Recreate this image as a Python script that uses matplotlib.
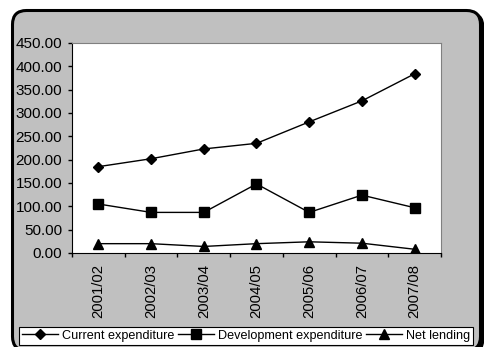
import matplotlib
matplotlib.use("Agg")
import matplotlib.pyplot as plt
from matplotlib.patches import FancyBboxPatch

plt.rcParams['font.family'] = ['Liberation Sans', 'DejaVu Sans']

years = ['2001/02', '2002/03', '2003/04', '2004/05', '2005/06', '2006/07', '2007/08']
current_exp = [185, 202, 223, 235, 281, 326, 384]
development_exp = [105, 87, 87, 148, 87, 124, 97]
net_lending = [20, 20, 14, 20, 24, 21, 8]
yticks = [0, 50, 100, 150, 200, 250, 300, 350, 400, 450]

W, H = 485, 347
fig = plt.figure(figsize=(W / 100, H / 100), dpi=100)
fig.patch.set_facecolor('white')

# background frame in pixel units
bg = fig.add_axes([0, 0, 1, 1], zorder=0)
bg.set_xlim(0, W)
bg.set_ylim(H, 0)
bg.axis('off')
shadow = FancyBboxPatch((15, 13), 468, 340, boxstyle='round,pad=0,rounding_size=14',
                        facecolor='black', edgecolor='black', linewidth=2)
bg.add_patch(shadow)
frame = FancyBboxPatch((12.5, 10.5), 468, 340, boxstyle='round,pad=0,rounding_size=14',
                       facecolor='#c0c0c0', edgecolor='black', linewidth=2.2)
bg.add_patch(frame)

ax = fig.add_axes([72 / W, 1 - 253 / H, 369 / W, 210 / H], zorder=1)
ax.set_facecolor('white')

x = list(range(len(years)))
ax.plot(x, current_exp, color='black', lw=1, marker='D', markersize=5.5,
        label='Current expenditure')
ax.plot(x, development_exp, color='black', lw=1, marker='s', markersize=6.5,
        label='Development expenditure')
ax.plot(x, net_lending, color='black', lw=1, marker='^', markersize=7,
        label='Net lending')

ax.set_xlim(-0.5, len(years) - 0.5)
ax.set_ylim(0, 450)
ax.set_yticks(yticks)
ax.set_yticklabels([f'{v:.2f}' for v in yticks], fontsize=11)
ax.set_xticks(x)
ax.set_xticklabels(years, rotation=90, fontsize=10.7)
ax.set_xticks([i - 0.5 for i in range(len(years) + 1)], minor=True)
ax.tick_params(axis='x', which='major', length=0, pad=8)
ax.tick_params(axis='x', which='minor', length=3, width=1, direction='out', color='black')
ax.tick_params(axis='y', length=3, width=1, direction='out', pad=4)

ax.spines['left'].set_color('black')
ax.spines['bottom'].set_color('black')
ax.spines['top'].set_color('#808080')
ax.spines['right'].set_color('#808080')

leg = fig.legend(loc='lower left', bbox_to_anchor=(19 / W, 2 / H), ncol=3, fontsize=9.1,
                 frameon=True, fancybox=False, handlelength=2.85, handletextpad=0.3,
                 columnspacing=0.3, borderpad=0.25, borderaxespad=0)
leg.get_frame().set_edgecolor('black')
leg.get_frame().set_linewidth(0.8)
leg.get_frame().set_facecolor('white')
leg.get_frame().set_alpha(1)

fig.savefig('out.png', dpi=100)
